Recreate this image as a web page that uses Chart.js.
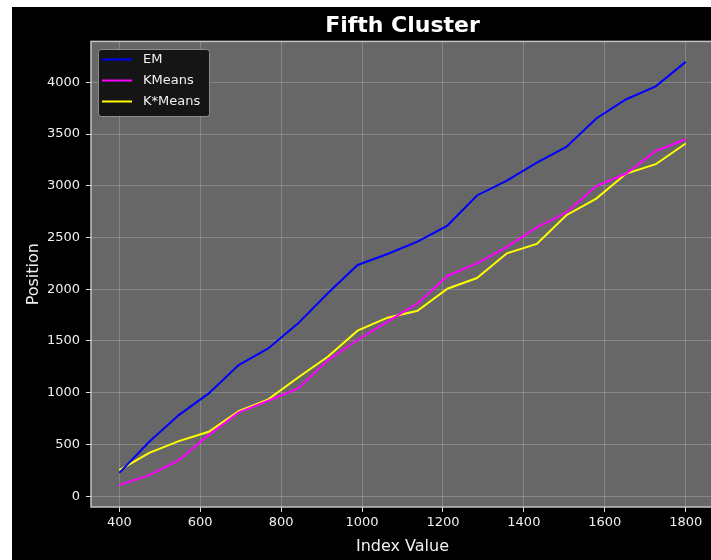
<!DOCTYPE html>
<html>
<head>
<meta charset="utf-8">
<script src="https://cdn.jsdelivr.net/npm/chart.js@4.4.1/dist/chart.umd.min.js"></script>
<style>
  html, body { margin: 0; padding: 0; background: #ffffff; overflow: hidden; width: 711px; height: 560px; }
  #wrap { position: absolute; left: 12px; top: 7px; width: 712px; height: 553px; background: #000000; }
</style>
</head>
<body>
<div id="wrap"><canvas id="chart"></canvas></div>
<script>
// Index values along the x axis
const indexValues = [400, 474, 547, 621, 695, 768, 842, 916, 989, 1063,
                     1137, 1211, 1284, 1358, 1432, 1505, 1579, 1653, 1726, 1800];

// Positions per clustering method
const emPositions     = [225, 525, 783, 993, 1266, 1427, 1670, 1963, 2234, 2340,
                         2459, 2615, 2906, 3050, 3224, 3375, 3650, 3836, 3961, 4197];
const kmeansPositions = [106, 203, 348, 590, 809, 922, 1041, 1315, 1509, 1686,
                         1863, 2128, 2250, 2410, 2597, 2741, 2997, 3118, 3336, 3449];
const kstarPositions  = [251, 419, 532, 622, 822, 935, 1147, 1350, 1599, 1725,
                         1792, 2005, 2108, 2347, 2437, 2715, 2876, 3118, 3208, 3408];

const seriesLabels = ['EM', 'KMeans', 'K*Means'];
const seriesColors = ['#0000ff', '#ff00ff', '#ffff00'];

// Tick labels
const xTickValues = [400, 600, 800, 1000, 1200, 1400, 1600, 1800];
const yTickValues = [0, 500, 1000, 1500, 2000, 2500, 3000, 3500, 4000];

const FONT = '"DejaVu Sans", sans-serif';
const TEXT = '#f0f0f0';

const toPoints = ys => ys.map((y, i) => ({ x: indexValues[i], y }));
const seriesValues = [emPositions, kmeansPositions, kstarPositions];

// Gray plot background behind the grid
const plotBackground = {
  id: 'plotBackground',
  beforeDraw(chart) {
    const { ctx, chartArea: a } = chart;
    ctx.save();
    ctx.fillStyle = '#676767';
    ctx.fillRect(a.left, a.top, a.right - a.left, a.bottom - a.top);
    ctx.restore();
  }
};

// Frame around the plot area plus the boxed legend in its upper-left corner
const frameAndLegend = {
  id: 'frameAndLegend',
  afterDatasetsDraw(chart) {
    const { ctx, chartArea: a } = chart;
    ctx.save();
    ctx.strokeStyle = '#c4c4c4';
    ctx.lineWidth = 1.5;
    ctx.strokeRect(a.left, a.top, a.right - a.left, a.bottom - a.top);

    const x0 = Math.round(a.left) + 7, y0 = Math.round(a.top) + 8;
    const w = 111, h = 67;
    ctx.beginPath();
    ctx.roundRect(x0 + 0.5, y0 + 0.5, w, h, 3);
    ctx.fillStyle = 'rgba(17,17,17,0.95)';
    ctx.fill();
    ctx.strokeStyle = '#8e8e8e';
    ctx.lineWidth = 1;
    ctx.stroke();

    ctx.font = '13px ' + FONT;
    ctx.textBaseline = 'middle';
    chart.data.datasets.forEach((ds, i) => {
      const yy = y0 + 10.5 + i * 21;
      ctx.strokeStyle = ds.borderColor;
      ctx.lineWidth = 2;
      ctx.beginPath();
      ctx.moveTo(x0 + 4, yy);
      ctx.lineTo(x0 + 34, yy);
      ctx.stroke();
      ctx.fillStyle = TEXT;
      ctx.fillText(ds.label, x0 + 45, yy + 0.5);
    });
    ctx.restore();
  }
};

const plainNumber = v => String(v);

new Chart(document.getElementById('chart'), {
  type: 'line',
  data: {
    datasets: seriesLabels.map((label, i) => ({
      label,
      data: toPoints(seriesValues[i]),
      borderColor: seriesColors[i],
      backgroundColor: seriesColors[i],
      borderWidth: 2,
      pointRadius: 0,
      tension: 0,
      fill: false
    }))
  },
  plugins: [plotBackground, frameAndLegend],
  options: {
    responsive: true,
    maintainAspectRatio: false,
    animation: false,
    devicePixelRatio: 1,
    layout: { padding: { left: 0, right: 10, top: 0, bottom: 0 } },
    plugins: {
      legend: { display: false },
      tooltip: { enabled: false },
      title: {
        display: true,
        fullSize: false,
        text: 'Fifth Cluster',
        color: '#ffffff',
        font: { family: FONT, size: 22, weight: 'bold' },
        padding: { top: 6, bottom: 2 }
      }
    },
    scales: {
      x: {
        type: 'linear',
        min: 330,
        max: 1870,
        afterBuildTicks: s => { s.ticks = xTickValues.map(v => ({ value: v })); },
        afterFit: s => { s.height = 53; },
        ticks: { color: TEXT, font: { family: FONT, size: 13 }, padding: 3, maxRotation: 0, autoSkip: false, callback: plainNumber },
        grid: { color: 'rgba(255,255,255,0.2)', tickColor: '#dddddd', tickLength: 5, lineWidth: 1 },
        border: { display: false },
        title: { display: true, text: 'Index Value', color: TEXT, font: { family: FONT, size: 16 }, padding: { top: 2, bottom: 4 } }
      },
      y: {
        type: 'linear',
        min: -105,
        max: 4395,
        afterBuildTicks: s => { s.ticks = yTickValues.map(v => ({ value: v })); },
        afterFit: s => { s.width = 79; },
        ticks: { color: TEXT, font: { family: FONT, size: 13 }, padding: 6, autoSkip: false, callback: plainNumber },
        grid: { color: 'rgba(255,255,255,0.2)', tickColor: '#dddddd', tickLength: 5, lineWidth: 1 },
        border: { display: false },
        title: { display: true, text: 'Position', color: TEXT, font: { family: FONT, size: 16 }, padding: { top: 12, bottom: 4 } }
      }
    }
  }
});
</script>
</body>
</html>
